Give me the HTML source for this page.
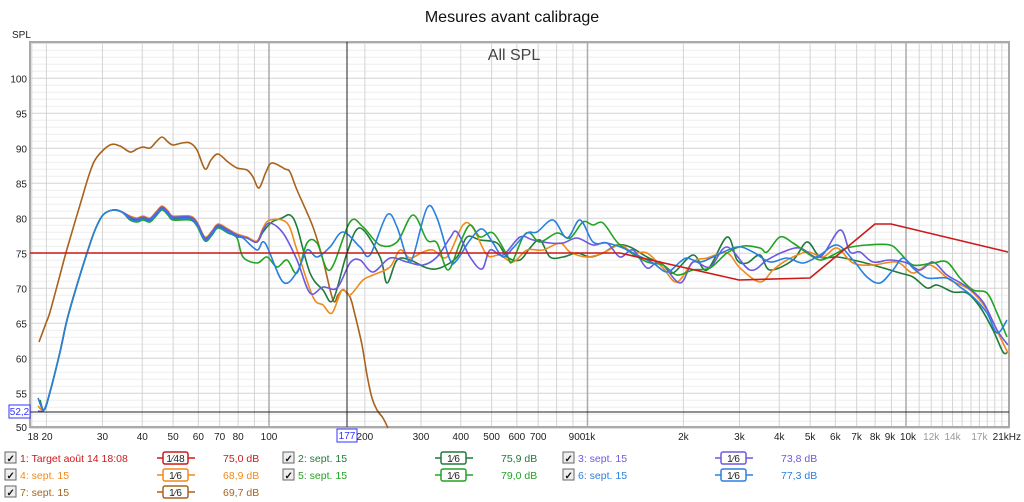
<!DOCTYPE html>
<html><head><meta charset="utf-8"><style>
body{margin:0;background:#fff;width:1024px;height:502px;overflow:hidden;font-family:"Liberation Sans",sans-serif}
svg{position:absolute;left:0;top:0}
</style></head><body>
<svg id="s" width="1024" height="502" xmlns="http://www.w3.org/2000/svg" font-family="Liberation Sans, sans-serif">
<text x="512" y="22" font-size="16" text-anchor="middle" fill="#111">Mesures avant calibrage</text>
<text x="12" y="38" font-size="10" fill="#222">SPL</text>
<g id="grid"></g>
<rect x="30" y="42" width="979" height="385" fill="none" stroke="#aaa" stroke-width="2"/>
<text x="514" y="60" font-size="16" text-anchor="middle" fill="#444">All SPL</text>
<g id="curves" fill="none" stroke-width="1.6" stroke-linejoin="round"></g>
<line x1="347" y1="42" x2="347" y2="427" stroke="#222" stroke-width="1"/>
<line x1="30" y1="412" x2="1009" y2="412" stroke="#222" stroke-width="1"/>
<rect x="9" y="405" width="21" height="13" fill="#fff" stroke="#33f"/>
<text x="19.5" y="415" font-size="10" text-anchor="middle" fill="#33f">52,2</text>
<rect x="337" y="429" width="20" height="13" fill="#fff" stroke="#33f"/>
<text x="347" y="439" font-size="10" text-anchor="middle" fill="#33f">177</text>
<g id="legend" font-size="10.5"></g>
</svg>
<script>
const NS="http://www.w3.org/2000/svg";
function el(p,t,a,txt){const e=document.createElementNS(NS,t);for(const k in a)e.setAttribute(k,a[k]);if(txt!==undefined)e.textContent=txt;p.appendChild(e);return e;}
const g=document.getElementById('grid');
const X=f=>269+318.5*Math.log10(f/100);
const Y=d=>78.3+(100-d)*7;
for(let d=50;d<=105;d++){const y=Y(d);el(g,'line',{x1:30,x2:1009,y1:y,y2:y,stroke:d%5==0?'#d4d4d4':'#eeeeee','stroke-width':1});
 if(d%5==0&&d<=100&&d>50)el(g,'text',{x:27,y:y+4,'font-size':10,'text-anchor':'end',fill:'#222'},d);}
el(g,'text',{x:27,y:431,'font-size':10,'text-anchor':'end',fill:'#222'},'50');
const fr=[];for(let f=20;f<100;f+=10)fr.push(f);for(let f=100;f<1000;f+=100)fr.push(f);for(let f=1000;f<=20000;f+=1000)fr.push(f);
fr.forEach(f=>{const x=X(f);const b=(f==100||f==1000||f==10000);el(g,'line',{x1:x,x2:x,y1:42,y2:427,stroke:b?'#aaaaaa':'#d4d4d4','stroke-width':b?1.5:1});});
el(g,'line',{x1:X(18),x2:X(18),y1:42,y2:427,stroke:'#d4d4d4'});
const labs=[[18,'18'],[20,'20'],[30,'30'],[40,'40'],[50,'50'],[60,'60'],[70,'70'],[80,'80'],[100,'100'],[200,'200'],[300,'300'],[400,'400'],[500,'500'],[600,'600'],[700,'700'],[900,'900'],[1000,'1k'],[2000,'2k'],[3000,'3k'],[4000,'4k'],[5000,'5k'],[6000,'6k'],[7000,'7k'],[8000,'8k'],[9000,'9k'],[10000,'10k'],[12000,'12k',1],[14000,'14k',1],[17000,'17k',1]];
labs.forEach(l=>{let x=X(l[0]);if(l[0]==18)x=33;if(l[0]==20)x=47;if(l[0]==1000)x=590;if(l[0]==10000)x=908;if(l[0]==900)x=577;if(l[0]==9000)x=890;
 el(g,'text',{x:x,y:440,'font-size':10,'text-anchor':'middle',fill:l[2]?'#999':'#222'},l[1]);});
el(g,'text',{x:1021,y:440,'font-size':10,'text-anchor':'end',fill:'#222'},'21kHz');

function path(pts){let d='M'+pts[0][0]+','+pts[0][1];for(let i=0;i<pts.length-1;i++){const p0=pts[Math.max(0,i-1)],p1=pts[i],p2=pts[i+1],p3=pts[Math.min(pts.length-1,i+2)];
 const c1=[p1[0]+(p2[0]-p0[0])/6,p1[1]+(p2[1]-p0[1])/6],c2=[p2[0]-(p3[0]-p1[0])/6,p2[1]-(p3[1]-p1[1])/6];d+=' C'+c1.join(',')+' '+c2.join(',')+' '+p2.join(',');}return d;}
const base=[[38,412],[44,410],[50,392],[60,352],[67,320],[77,285],[87,253],[95,230],[103,215],[113,210],[122,212],[130,217],[137,219],[143,217],[150,219],[156,213],[162,207],[168,212],[173,217],[190,217],[197,223],[205,238],[212,232],[218,225],[228,230],[237,235]];
const sh=(arr,dy)=>arr.map(p=>[p[0],p[1]+(p[0]>125?dy:0)]);
const C={
purple:[[247,238],[257,242],[263,230],[270,223],[283,233],[297,260],[310,293],[323,287],[337,288],[350,263],[360,260],[373,272],[390,258],[407,262],[423,265],[437,257],[450,238],[457,232],[470,257],[482,269],[490,250],[503,255],[520,237],[533,240],[550,243],[563,243],[577,238],[593,245],[607,243],[620,257],[633,250],[647,268],[660,262],[680,283],[693,262],[710,267],[727,247],[750,270],[767,260],[783,252],[800,248],[820,257],[840,230],[850,252],[860,252],[873,262],[890,260],[907,263],[920,270],[933,262],[947,275],[967,287],[983,302],[997,330],[1008,345]],
orange:[[247,237],[257,241],[263,228],[270,220],[287,223],[297,250],[313,297],[323,305],[332,313],[342,290],[350,295],[363,280],[373,275],[390,267],[400,250],[410,258],[423,252],[433,250],[447,257],[463,225],[473,228],[487,255],[500,255],[513,262],[527,250],[543,250],[560,243],[570,252],[587,257],[603,253],[620,245],[633,253],[647,253],[663,268],[677,282],[693,262],[707,258],[727,253],[740,268],[760,282],[773,270],[787,260],[807,252],[823,257],[837,248],[853,263],[873,265],[897,262],[913,273],[930,265],[950,280],[970,290],[987,310],[1000,337],[1008,353]],
dkgreen:[[247,238],[257,242],[263,232],[272,222],[282,218],[290,215],[297,227],[310,273],[323,290],[333,300],[347,253],[360,228],[380,257],[387,283],[397,260],[410,260],[427,268],[440,268],[457,257],[467,237],[480,240],[497,243],[507,257],[520,260],[530,248],[540,240],[550,257],[563,257],[577,253],[590,257],[603,253],[617,245],[630,247],[647,257],[663,265],[673,273],[693,255],[707,270],[727,237],[737,260],[747,263],[760,255],[770,270],[793,260],[807,242],[820,257],[837,257],[853,260],[873,265],[900,273],[913,277],[927,288],[937,285],[953,292],[967,293],[980,307],[993,330],[1003,352],[1008,352]],
green:[[243,257],[257,263],[267,257],[277,267],[287,260],[297,273],[307,243],[317,243],[330,270],[350,222],[363,227],[380,245],[397,242],[413,215],[427,240],[437,243],[448,270],[460,243],[470,225],[480,237],[493,233],[507,255],[512,262],[523,237],[530,233],[540,242],[557,233],[570,238],[583,222],[593,225],[603,223],[617,242],[630,252],[647,262],[663,265],[677,275],[693,270],[710,268],[727,253],[743,246],[760,248],[767,252],[780,237],[793,243],[807,253],[820,260],[833,255],[847,248],[867,245],[890,245],[900,253],[913,265],[933,263],[947,262],[960,278],[973,290],[987,293],[997,313],[1007,337]],
blue:[[243,238],[257,250],[265,243],[283,282],[297,272],[307,250],[317,257],[330,247],[343,232],[360,247],[370,255],[387,215],[397,227],[407,258],[413,257],[427,208],[437,218],[450,260],[457,260],[470,240],[482,229],[493,243],[503,257],[513,248],[527,233],[537,232],[553,220],[567,238],[580,220],[593,242],[607,243],[623,248],[637,255],[653,263],[667,272],[680,262],[687,258],[700,262],[713,257],[737,247],[753,252],[770,262],[787,258],[803,263],[820,255],[837,245],[853,260],[867,277],[880,283],[893,270],[903,258],[913,268],[927,278],[947,278],[960,287],[973,297],[987,313],[997,333],[1007,320]]
};
const brown=[[39,342],[46,323],[50,312],[60,275],[67,249],[80,205],[90,172],[97,157],[110,145],[120,146],[130,152],[137,149],[143,147],[150,148],[156,142],[162,137],[168,142],[173,145],[182,143],[190,143],[197,150],[205,169],[211,160],[218,154],[228,162],[237,168],[247,170],[253,177],[259,188],[266,172],[272,163],[285,169],[290,172],[297,190],[313,227],[323,260],[333,300],[338,295],[343,290],[350,297],[355,315],[362,345],[367,375],[372,398],[377,410],[383,418],[388,428]];
const cv=document.getElementById('curves');
el(cv,'path',{d:path(brown),stroke:'#a8621c'});
const cols={purple:'#6a5ae0',orange:'#f08a1c',dkgreen:'#1f7a3a',green:'#22a322',blue:'#2a80e0'};
const offs={purple:0,orange:-1,dkgreen:1,green:3,blue:2};
const starts={purple:[38,411],orange:[38,406],dkgreen:[40,400],green:[39,400],blue:[38,398]};
['dkgreen','orange','purple','green','blue'].forEach(k=>{let b=sh(base,offs[k]);b[0]=starts[k];el(cv,'path',{d:path(b.concat(C[k])),stroke:cols[k]});});
el(cv,'path',{d:'M30,253 L620,253 L739,280 L810,278 L875,224 L891,224 L1008,252',stroke:'#cc1a1a'});

const L=document.getElementById('legend');
function item(cx,cy,label,frac,val,col){
 el(L,'rect',{x:cx,y:cy-10,width:11,height:11,fill:'#eee',stroke:'#666'});
 el(L,'text',{x:cx+1.5,y:cy,'font-size':10,fill:'#111','font-weight':'bold'},'✓');
 el(L,'text',{x:cx+15,y:cy,fill:col},label);
 const bx=cx+152;
 el(L,'line',{x1:bx,x2:bx+38,y1:cy-4,y2:cy-4,stroke:col,'stroke-width':1.5});
 el(L,'rect',{x:bx+6,y:cy-10,width:25,height:12,rx:2,fill:'#fff',stroke:col,'stroke-width':1.5});
 el(L,'text',{x:bx+18.5,y:cy,'text-anchor':'middle',fill:'#222','font-size':10},frac);
 el(L,'text',{x:cx+218,y:cy,fill:col},val);}
item(5,462,'1: Target août 14 18:08','1⁄48','75,0 dB','#cc1a1a');
item(283,462,'2: sept. 15','1⁄6','75,9 dB','#1f7a3a');
item(563,462,'3: sept. 15','1⁄6','73,8 dB','#6a5ae0');
item(5,479,'4: sept. 15','1⁄6','68,9 dB','#f08a1c');
item(283,479,'5: sept. 15','1⁄6','79,0 dB','#22a322');
item(563,479,'6: sept. 15','1⁄6','77,3 dB','#2a80e0');
item(5,496,'7: sept. 15','1⁄6','69,7 dB','#a8621c');
</script>
</body></html>
